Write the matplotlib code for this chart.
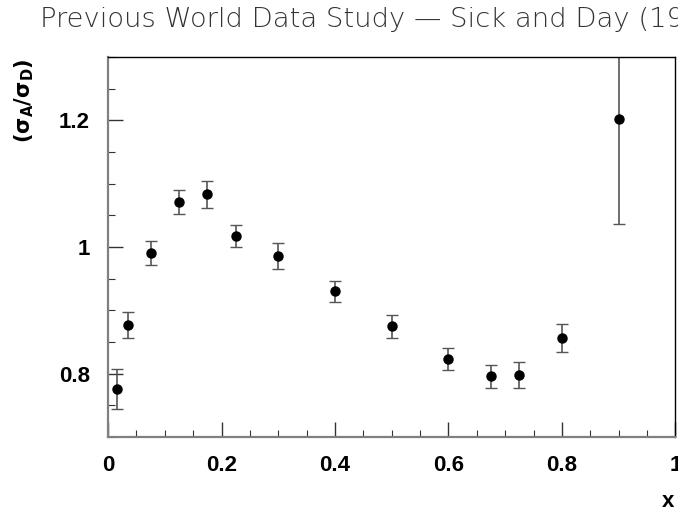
import matplotlib
matplotlib.use("Agg")
import matplotlib.pyplot as plt
from matplotlib.ticker import MultipleLocator

# ratio data
x = [0.015, 0.035, 0.075, 0.125, 0.175, 0.225, 0.30, 0.40, 0.50, 0.60, 0.675, 0.725, 0.80, 0.90]
ratio = [0.776, 0.877, 0.991, 1.071, 1.083, 1.017, 0.986, 0.930, 0.875, 0.823, 0.796, 0.798, 0.857, 1.202]
err = [0.032, 0.021, 0.019, 0.019, 0.022, 0.017, 0.020, 0.017, 0.018, 0.017, 0.018, 0.020, 0.022, 0.166]

fig = plt.figure(figsize=(6.78, 5.24), dpi=100)
ax = fig.add_axes([0.1593, 0.166, 0.8370, 0.7252])

ax.errorbar(x, ratio, yerr=err, fmt='o', color='black', ecolor='#555555',
            elinewidth=1.2, capsize=4, capthick=1.0, markersize=6.5)

ax.set_xlim(0, 1)
ax.set_ylim(0.7, 1.3)
ax.xaxis.set_minor_locator(MultipleLocator(0.05))
ax.yaxis.set_minor_locator(MultipleLocator(0.05))
ax.set_xticks([0, 0.2, 0.4, 0.6, 0.8, 1.0], ['0', '0.2', '0.4', '0.6', '0.8', '1'])
ax.set_yticks([0.8, 1.0, 1.2], ['0.8', '1', '1.2'])

ax.tick_params(which='both', direction='in', top=False, right=False, color='#333333')
ax.tick_params(which='major', length=11, width=1.0, pad=13)
ax.tick_params(which='minor', length=5, width=0.8)
for lab in ax.get_xticklabels() + ax.get_yticklabels():
    lab.set_fontfamily('Liberation Sans')
    lab.set_fontweight('bold')
    lab.set_fontsize(16)

for side in ['left', 'bottom']:
    ax.spines[side].set_color('#808080')
    ax.spines[side].set_linewidth(1.6)
for side in ['top', 'right']:
    ax.spines[side].set_color('black')
    ax.spines[side].set_linewidth(1.0)

# title runs off the right edge, as in the original
fig.text(0.059, 0.963, 'Previous World Data Study \u2014 Sick and Day (1994)',
         fontfamily='DejaVu Sans', fontweight='light', fontsize=19.7,
         ha='left', va='center', color='#333333')

fig.text(0.036, 0.888, r'(σ$_\mathbf{A}$/σ$_\mathbf{D}$)', rotation=90,
         fontfamily='DejaVu Sans', fontweight='bold', fontsize=15,
         ha='center', va='top')

fig.text(0.985, 0.022, 'x', fontfamily='Liberation Sans', fontweight='bold',
         fontsize=16, ha='center', va='bottom')

fig.savefig('out.png', dpi=100)
